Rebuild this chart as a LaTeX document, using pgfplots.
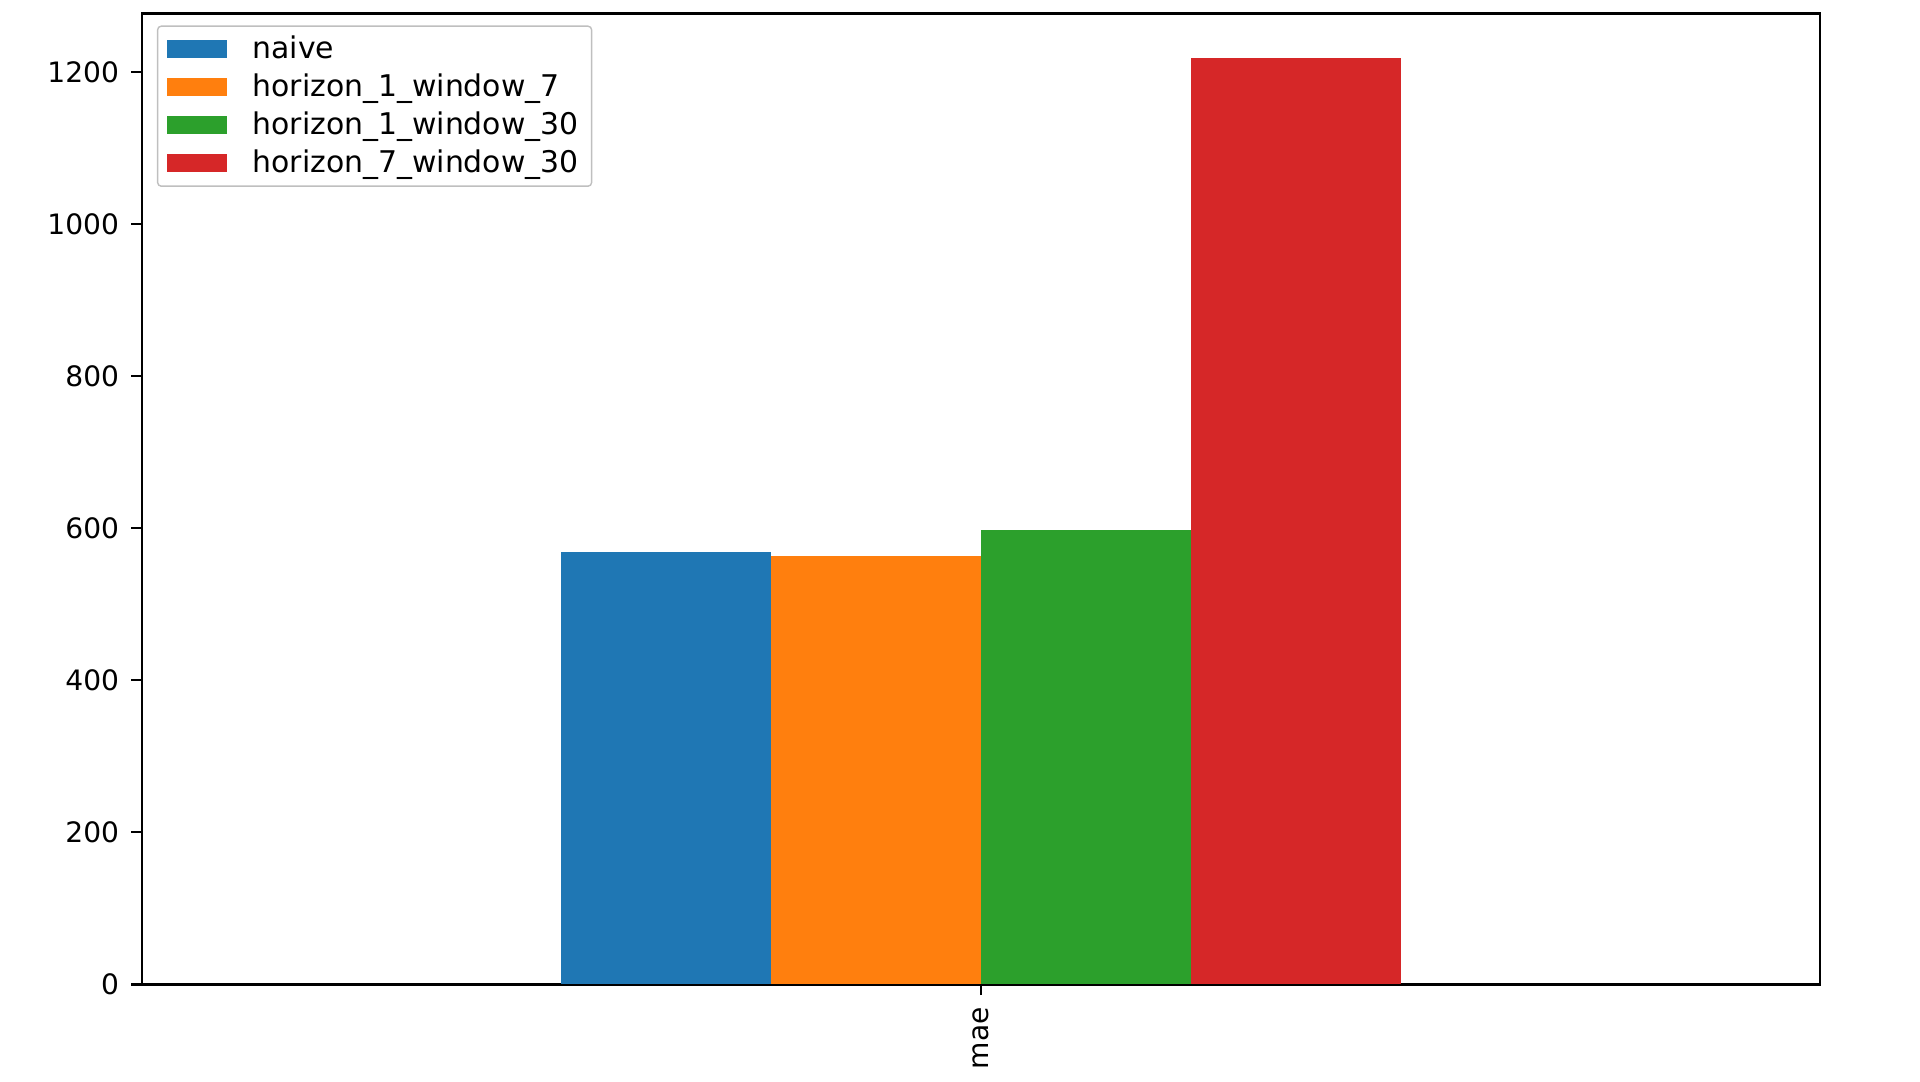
\documentclass[border=0pt]{standalone}
\usepackage{fontspec}
\setmainfont{DejaVu Sans}
\usepackage{pgfplots}
\pgfplotsset{compat=1.18}
\definecolor{tabblue}{HTML}{1F77B4}
\definecolor{taborange}{HTML}{FF7F0E}
\definecolor{tabgreen}{HTML}{2CA02C}
\definecolor{tabred}{HTML}{D62728}

\begin{document}
\begin{tikzpicture}
  \begin{axis}[
      scale only axis,
      width=16.78cm, height=9.71cm,
      xmin=-0.5, xmax=0.5,
      ymin=0, ymax=1277,
      xtick={0}, xticklabels={mae},
      ytick={0,200,400,600,800,1000,1200},
      x tick label style={rotate=90, anchor=east},
      ticklabel style={font=\fontsize{8}{10}\selectfont},
      /pgf/number format/assume math mode=true,
      /pgf/number format/1000 sep={},
      tick align=outside,
      major tick length=3pt,
      xtick pos=bottom, ytick pos=left,
      axis line style={line width=0.8pt},
      every tick/.style={black, line width=0.6pt},
      legend cell align=left,
      legend style={at={(0,1)}, anchor=north west, xshift=1.5mm, yshift=-1.2mm,
        font=\fontsize{8.5}{10}\selectfont, draw=black!25, rounded corners=1pt,
        row sep=0pt, inner xsep=0.9mm, inner ysep=0.4mm,
        nodes={inner sep=0.4mm, text height=2.4mm, text depth=0.6mm},
        /tikz/every odd column/.append style={column sep=2.2mm}},
      legend image code/.code={\fill[#1, sharp corners] (0cm,-0.9mm) rectangle (6mm,0.9mm);},
    ]
    \addplot[ybar, bar width=0.125, bar shift=0pt, fill=tabblue, draw=none]
      coordinates {(-0.1875,568.6)};
    \addplot[ybar, bar width=0.125, bar shift=0pt, fill=taborange, draw=none]
      coordinates {(-0.0625,563.7)};
    \addplot[ybar, bar width=0.125, bar shift=0pt, fill=tabgreen, draw=none]
      coordinates {(0.0625,597.5)};
    \addplot[ybar, bar width=0.125, bar shift=0pt, fill=tabred, draw=none]
      coordinates {(0.1875,1219)};
    \legend{naive, horizon\_1\_window\_7, horizon\_1\_window\_30, horizon\_7\_window\_30}
  \end{axis}
  \path (current axis.south west) ++(-1.42cm,-0.955cm);
  \path (current axis.north east) ++(1.0cm,0.135cm);
\end{tikzpicture}
\end{document}
